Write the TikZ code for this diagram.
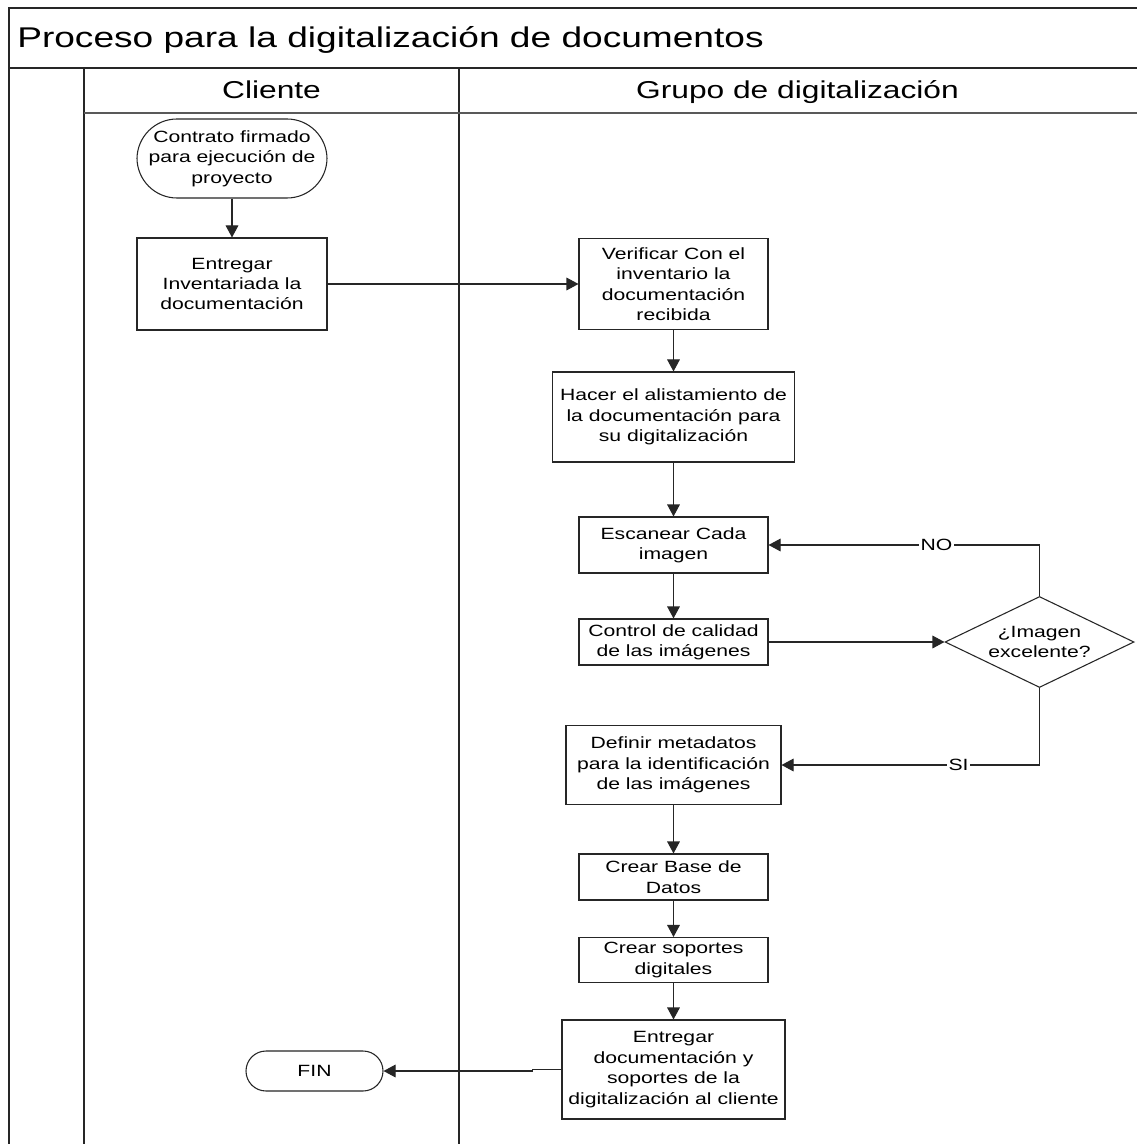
\documentclass[tikz,border=0pt]{standalone}
\usepackage{fontspec}
\setmainfont[FakeStretch=1.3]{Liberation Sans}
\usetikzlibrary{arrows.meta,shapes.geometric}

\def\px{0.75pt}

\begin{document}
\begin{tikzpicture}[x=0.75pt,y=-0.75pt,
  every node/.style={font=\fontsize{12.2}{15.3}\selectfont, text=black, align=center, inner sep=0pt},
  proc/.style={draw=black!85, line width=0.8pt, fill=white},
  term/.style={proc, rounded corners=#1},
  decision/.style={proc, diamond, aspect=2.08},
  flow/.style={draw=black!85, line width=0.8pt, -{Triangle[length=9pt,width=9.5pt]}},
  lane/.style={draw=black!85, line width=1pt},
  tag/.style={fill=white, inner sep=1pt},
  hdr/.style={font=\fontsize{18.3}{22}\selectfont, anchor=base},
]
\useasboundingbox (0,0) rectangle (1136,1144);
\fill[white] (0,0) rectangle (1136,1144);

% pool frame and swimlanes
\draw[lane] (1150,8) -- (9,8) -- (9,1150);
\draw[lane, line width=1.5pt] (9,68) -- (1150,68);
\draw[lane] (84,68) -- (84,1150);
\draw[lane] (459,68) -- (459,1150);
\draw[lane, draw=black!65] (84,113) -- (1150,113);

\node[font=\fontsize{21.4}{25}\selectfont, anchor=base west] (title) at (17,48)
  {Proceso para la digitalización de documentos};
\node[hdr] (laneA) at (271.5,99) {Cliente};
\node[hdr] (laneB) at (797.5,99) {Grupo de digitalización};

% process steps
\node[term=30pt, minimum width=190*\px, minimum height=79*\px] (start) at (232,158.5)
  {Contrato firmado\\para ejecución de\\proyecto};
\node[proc, minimum width=190*\px, minimum height=92*\px] (entrega) at (232,284)
  {Entregar\\Inventariada la\\documentación};
\node[proc, minimum width=189*\px, minimum height=91*\px] (verif) at (673.5,284)
  {Verificar Con el\\inventario la\\documentación\\recibida};
\node[proc, minimum width=242*\px, minimum height=90*\px] (alist) at (673.5,417)
  {Hacer el alistamiento de\\la documentación para\\su digitalización};
\node[proc, minimum width=189*\px, minimum height=56*\px] (escan) at (673.5,545)
  {Escanear Cada\\imagen};
\node[proc, minimum width=189*\px, minimum height=46*\px] (control) at (673.5,642)
  {Control de calidad\\de las imágenes};
\node[decision, minimum width=189*\px, minimum height=91*\px] (dec) at (1039.5,642)
  {¿Imagen\\excelente?};
\node[proc, minimum width=215*\px, minimum height=79*\px] (defin) at (673.5,765)
  {Definir metadatos\\para la identificación\\de las imágenes};
\node[proc, minimum width=189*\px, minimum height=46*\px] (base) at (673.5,877)
  {Crear Base de\\Datos};
\node[proc, minimum width=189*\px, minimum height=45*\px] (soport) at (673.5,960)
  {Crear soportes\\digitales};
\node[proc, minimum width=223*\px, minimum height=99*\px] (entfin) at (673.5,1069.5)
  {Entregar\\documentación y\\soportes de la\\digitalización al cliente};
\node[term=15pt, minimum width=137*\px, minimum height=40*\px] (fin) at (314.5,1071)
  {FIN};

% connectors
\draw[flow] (start) -- (entrega);
\draw[flow] (entrega) -- (verif);
\draw[flow] (verif) -- (alist);
\draw[flow] (alist) -- (escan);
\draw[flow] (escan) -- (control);
\draw[flow] (control) -- (dec);
\draw[flow] (dec.north) |- node[tag, pos=0.69] {NO} (escan.east);
\draw[flow] (dec.south) |- node[tag, pos=0.657] {SI} (defin.east);
\draw[flow] (defin) -- (base);
\draw[flow] (base) -- (soport);
\draw[flow] (soport) -- (entfin);
\draw[flow] (entfin.west) -- ++(-29,0) |- (fin.east);
\end{tikzpicture}
\end{document}
